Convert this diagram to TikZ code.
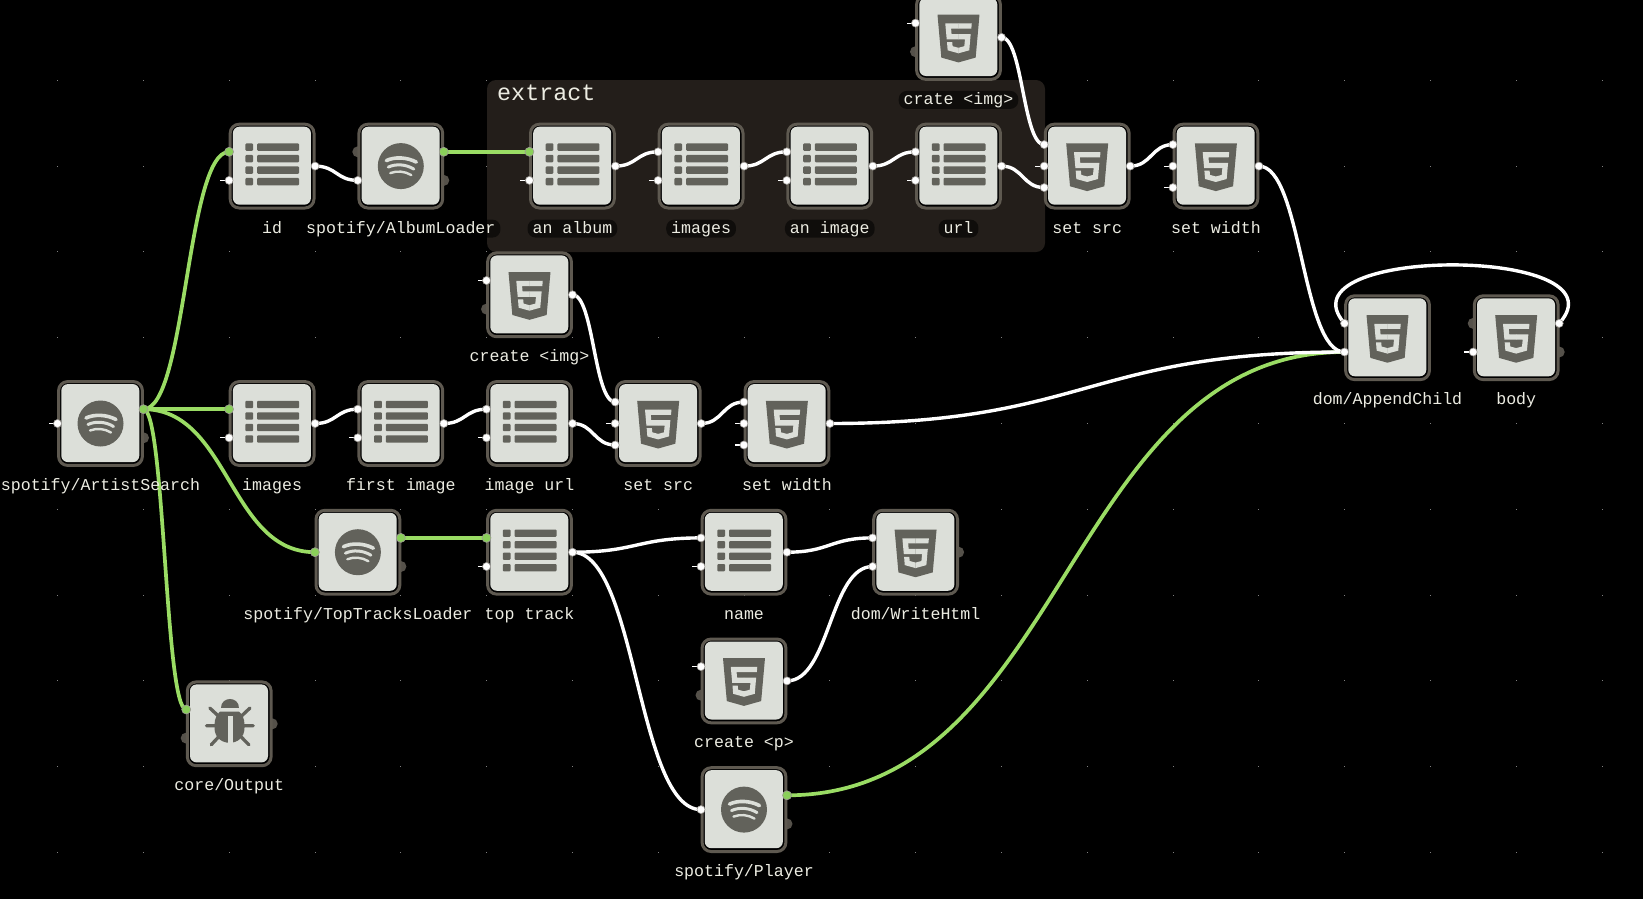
\documentclass[tikz,border=0pt]{standalone}
\usepackage{fontspec}
\usetikzlibrary{calc}
\newfontfamily\lblfont{Liberation Mono}
\definecolor{ring}{HTML}{5E5950}
\definecolor{body}{HTML}{DCDFD9}
\definecolor{ink}{HTML}{62625B}
\definecolor{grn}{HTML}{9ADC64}
\definecolor{grnp}{HTML}{8ACF5A}
\definecolor{grp}{HTML}{231E1A}
\definecolor{txt}{HTML}{ECECE2}
\definecolor{dport}{HTML}{55514A}
\pgfdeclarelayer{bgl}\pgfdeclarelayer{wires}\pgfsetlayers{bgl,wires,main}
\tikzset{
  x=1pt,y=-1pt,
  nodebox/.style={draw=ring,fill=black,line width=3pt,minimum size=83.8pt,inner sep=0pt,rounded corners=9pt,shape=rectangle},
  pw/.style={circle,fill=white,draw=ring!60,line width=.6pt,minimum size=8pt,inner sep=0pt},
  pg/.style={circle,fill=grnp,draw=ring!60,line width=.6pt,minimum size=9pt,inner sep=0pt},
  pdark/.style={circle,fill=dport,minimum size=11pt,inner sep=0pt},
  stubline/.style={draw=white,line width=1.1pt},
  wirew/.style={draw=white,line width=3.4pt},
  wireg/.style={draw=grn,line width=3.7pt},
  lab/.style={font=\lblfont\fontsize{16.6}{18}\selectfont,text=txt,anchor=base,inner sep=0pt,text height=12pt,text depth=3pt},
  labp/.style={lab,fill=black,fill opacity=.55,text opacity=1,rounded corners=8pt,inner xsep=5pt,inner ysep=1.5pt},
  title/.style={font=\lblfont\fontsize{23.4}{26}\selectfont,text=txt,anchor=base west,inner sep=0pt},
}
\newcommand\iconlist{%
  \foreach \ry in {-22.7,-11.2,0.3,11.8}{%
    \fill[ink,rounded corners=1pt] (-26.7,\ry) rectangle (-19,\ry+7.4);
    \fill[ink,rounded corners=1pt] (-15,\ry) rectangle (27,\ry+7.4);
  }}
\newcommand\iconspot{%
  \fill[ink] (0,0) circle (23);
  \draw[body,line width=3.6pt,line cap=round] (-14.5,-5.5) .. controls (-6,-9.5) and (6,-9) .. (15.5,-4);
  \draw[body,line width=3pt,line cap=round] (-12.5,1) .. controls (-5,-2.5) and (5,-2) .. (13,3);
  \draw[body,line width=2.4pt,line cap=round] (-10.5,7) .. controls (-4,4.5) and (4,5) .. (10.5,9);
}
\newcommand\iconhtml{%
  \begin{scope}[shift={(-23.8pt,22.7pt)},x=0.0931pt,y=-0.0932pt]
    \fill[ink] (71,460) -- (30,0) -- (481,0) -- (440,460) -- (255,512) -- cycle;
    \fill[body] (256,208) -- (181,208) -- (176,150) -- (256,150) -- (256,94) -- (114,94) -- (115,109) -- (129,265) -- (256,265) -- cycle;
    \fill[body] (256,355) -- (255,355) -- (192,338) -- (188,293) -- (132,293) -- (139,382) -- (255,414) -- (256,414) -- cycle;
    \fill[body] (255,208) -- (255,265) -- (325,265) -- (318,338) -- (255,355) -- (255,414) -- (371,382) -- (372,372) -- (385,223) -- (387,208) -- cycle;
    \fill[body] (255,94) -- (255,150) -- (392,150) -- (393,150) -- (394,138) -- (397,109) -- (398,94) -- cycle;
  \end{scope}}
\newcommand\iconbug{%
  \fill[ink] (-8.6,-15.7) .. controls (-8.6,-28) and (10,-28) .. (10,-15.7) -- cycle;
  \fill[ink] (-9,-12.3) -- (9.6,-12.3) .. controls (13,-10) and (15.3,-5) .. (15.3,1) -- (15.3,4) .. controls (15.3,14) and (8,19) .. (0.3,19) .. controls (-7,19) and (-14.7,14) .. (-14.7,4) -- (-14.7,1) .. controls (-14.7,-5) and (-12,-10) .. (-9,-12.3) -- cycle;
  \fill[body] (-1.3,-8) rectangle (3.3,19.5);
  \draw[ink,line width=3.3pt,line cap=round]
    (-19.3,-15.7) -- (-11,-8) (20.7,-15.7) -- (12.5,-8)
    (-22.7,2) -- (-14,2) (24,2) -- (15,2)
    (-18,21) -- (-11,13.5) (19.7,21) -- (12.3,13.5);
}
% name, k, m, icon, label, dark ports dx/dy, ports style/dx/dy/suffix, stubs dy/suffix, label style
\newcommand\nd[9]{%
  \coordinate (#1c) at ({100.5+42.9*#2},{423.5+42.9*#3});
  \foreach \dx/\dy in {#6}{\node[pdark] at ($(#1c)+(\dx,\dy)$) {};}
  \node[nodebox] (#1) at (#1c) {};
  \fill[body,rounded corners=6.5pt] ($(#1c)+(-39.2,-39.4)$) rectangle ($(#1c)+(38.8,38.6)$);
  \begin{scope}[shift={(#1c)}] #4 \end{scope}
  \foreach \dy/\suf in {#8}{%
    \draw[stubline] ($(#1c)+(-43,\dy)$) -- ++(-9,0);
    \node[pw] (#1\suf) at ($(#1c)+(-43,\dy)$) {};}
  \foreach \st/\dx/\dy/\suf in {#7}{\node[\st] (#1\suf) at ($(#1c)+(\dx,\dy)$) {};}
  \node[#9] (#1lab) at ($(#1c)+(0,67)$) {#5};
}
\newcommand\wire[3]{%
  \begin{pgfonlayer}{wires}
  \draw[#1] let \p1=(#2.center),\p2=(#3.center) in (\p1) .. controls ({0.5*(\x1+\x2)},\y1) and ({0.5*(\x1+\x2)},\y2) .. (\p2);
  \end{pgfonlayer}}
\begin{document}
\begin{tikzpicture}
\useasboundingbox (0,0) rectangle (1643,899);
\clip (0,0) rectangle (1643,899);
\begin{pgfonlayer}{bgl}
  \fill[black] (0,0) rectangle (1643,899);
  \foreach \n in {0,...,18}{\foreach \m in {-4,...,5}{%
    \fill[white!50!black] ({57.6+85.8*\n-.5},{423.5+85.8*\m-.5}) rectangle ++(1,1);}}
  \fill[grp,rounded corners=9pt] (487,80) rectangle (1045,252);
\end{pgfonlayer}
\node[title] (extractlab) at (497,100) {extract};

\nd{artist}{0}{0}{\iconspot}{spotify/ArtistSearch}{43/14.3}{pg/43/-14.3/Ra}{0/L}{lab}
\nd{id}{4}{-6}{\iconlist}{id}{}{pg/-43/-14.3/La,pw/43/0/R}{14.3/Lb}{lab}
\nd{album}{7}{-6}{\iconspot}{spotify/AlbumLoader}{-43/-14.3,43/14.3}{pw/-43/14.3/Lb,pg/43/-14.3/Ra}{}{labp}
\nd{analbum}{11}{-6}{\iconlist}{an album}{}{pg/-43/-14.3/La,pw/43/0/R}{14.3/Lb}{labp}
\nd{imagesa}{14}{-6}{\iconlist}{images}{}{pw/-43/-14.3/La,pw/43/0/R}{14.3/Lb}{labp}
\nd{animage}{17}{-6}{\iconlist}{an image}{}{pw/-43/-14.3/La,pw/43/0/R}{14.3/Lb}{labp}
\nd{url}{20}{-6}{\iconlist}{url}{}{pw/-43/-14.3/La,pw/43/0/R}{14.3/Lb}{labp}
\nd{crate}{20}{-9}{\iconhtml}{crate <img>}{-43/14.3}{pw/43/0/R}{-14.3/La}{labp}
\nd{srca}{23}{-6}{\iconhtml}{set src}{}{pw/-43/-21.5/Lu,pw/-43/21.5/Ld,pw/43/0/R}{0/L}{lab}
\nd{widtha}{26}{-6}{\iconhtml}{set width}{}{pw/-43/-21.5/Lu,pw/43/0/R}{0/L,21.5/Ld}{lab}
\nd{createimg}{10}{-3}{\iconhtml}{create <img>}{-43/14.3}{pw/43/0/R}{-14.3/La}{lab}
\nd{imagesb}{4}{0}{\iconlist}{images}{}{pg/-43/-14.3/La,pw/43/0/R}{14.3/Lb}{lab}
\nd{first}{7}{0}{\iconlist}{first image}{}{pw/-43/-14.3/La,pw/43/0/R}{14.3/Lb}{lab}
\nd{imgurl}{10}{0}{\iconlist}{image url}{}{pw/-43/-14.3/La,pw/43/0/R}{14.3/Lb}{lab}
\nd{srcb}{13}{0}{\iconhtml}{set src}{}{pw/-43/-21.5/Lu,pw/-43/21.5/Ld,pw/43/0/R}{0/L}{lab}
\nd{widthb}{16}{0}{\iconhtml}{set width}{}{pw/-43/-21.5/Lu,pw/43/0/R}{0/L,21.5/Ld}{lab}
\nd{tracks}{6}{3}{\iconspot}{spotify/TopTracksLoader}{43/14.3}{pg/-43/0/L,pg/43/-14.3/Ra}{}{lab}
\nd{top}{10}{3}{\iconlist}{top track}{}{pg/-43/-14.3/La,pw/43/0/R}{14.3/Lb}{lab}
\nd{name}{15}{3}{\iconlist}{name}{}{pw/-43/-14.3/La,pw/43/0/R}{14.3/Lb}{lab}
\nd{write}{19}{3}{\iconhtml}{dom/WriteHtml}{43/0}{pw/-43/-14.3/La,pw/-43/14.3/Lb}{}{lab}
\nd{createp}{15}{6}{\iconhtml}{create <p>}{-43/14.3}{pw/43/0/R}{-14.3/La}{lab}
\nd{player}{15}{9}{\iconspot}{spotify/Player}{43/14.3}{pw/-43/0/L,pg/43/-14.3/Ra}{}{lab}
\nd{output}{3}{7}{\iconbug}{core/Output}{-43/14.3,43/0}{pg/-43/-14.3/La}{}{lab}
\nd{append}{30}{-2}{\iconhtml}{dom/AppendChild}{}{pw/-43/-14.3/La,pw/-43/14.3/Lb}{}{lab}
\nd{bodyn}{33}{-2}{\iconhtml}{body}{-43/-14.3,43/14.3}{pw/43/-14.3/Ra}{14.3/Lb}{lab}

\wire{wireg}{artistRa}{idLa}
\wire{wireg}{artistRa}{imagesbLa}
\wire{wireg}{artistRa}{tracksL}
\wire{wireg}{artistRa}{outputLa}
\wire{wirew}{idR}{albumLb}
\wire{wireg}{albumRa}{analbumLa}
\wire{wirew}{analbumR}{imagesaLa}
\wire{wirew}{imagesaR}{animageLa}
\wire{wirew}{animageR}{urlLa}
\wire{wirew}{urlR}{srcaLd}
\wire{wirew}{crateR}{srcaLu}
\wire{wirew}{srcaR}{widthaLu}
\wire{wireg}{playerRa}{appendLb}
\wire{wirew}{widthaR}{appendLb}
\wire{wirew}{imagesbR}{firstLa}
\wire{wirew}{firstR}{imgurlLa}
\wire{wirew}{imgurlR}{srcbLd}
\wire{wirew}{createimgR}{srcbLu}
\wire{wirew}{srcbR}{widthbLu}
\wire{wirew}{widthbR}{appendLb}
\wire{wireg}{tracksRa}{topLa}
\wire{wirew}{topR}{nameLa}
\wire{wirew}{topR}{playerL}
\wire{wirew}{nameR}{writeLa}
\wire{wirew}{createpR}{writeLb}
\begin{pgfonlayer}{wires}
\draw[wirew] (appendLa.center) .. controls +(-68,-78) and +(70,-78) .. (bodynRa.center);
\end{pgfonlayer}
\end{tikzpicture}
\end{document}
